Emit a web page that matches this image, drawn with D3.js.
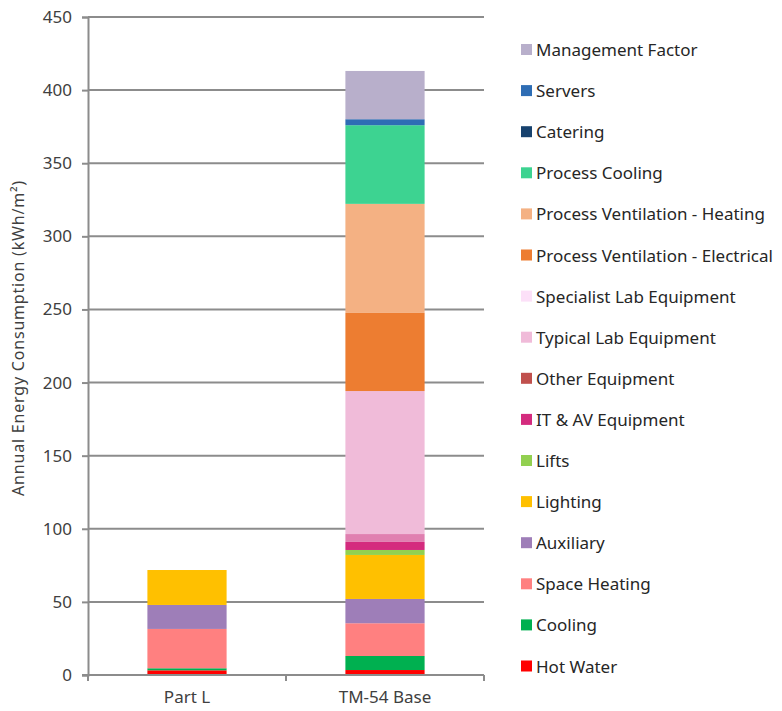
<!DOCTYPE html>
<html>
<head>
<meta charset="utf-8">
<script src="https://cdn.jsdelivr.net/npm/d3@7"></script>
<style>
  body { margin: 0; background: #fff; font-family: "Noto Sans", Lato, sans-serif; }
  .tick text { font-size: 17px; fill: #404040; font-family: "Noto Sans", sans-serif; }
</style>
</head>
<body>
<div id="chart"></div>
<script>
// data, bottom of the stack first
var categories = ["Part L", "TM-54 Base"];
var seriesNames = ["Hot Water", "Cooling", "Space Heating", "Auxiliary", "Lighting", "Lifts",
  "IT & AV Equipment", "Other Equipment", "Typical  Lab Equipment", "Specialist Lab Equipment",
  "Process Ventilation - Electrical", "Process Ventilation - Heating", "Process Cooling",
  "Catering", "Servers", "Management Factor"];
var partL = [3.2, 1.4, 26.9, 16.4, 23.9, 0, 0, 0, 0, 0, 0, 0, 0, 0, 0, 0];
var tm54 = [3.4, 9.6, 22.4, 16.6, 30.1, 3.4, 5.5, 5.4, 97.8, 0, 53.4, 74.6, 53.8, 0, 4.1, 33.0];
var colours = ["#FF0000", "#00B050", "#FF8080", "#9E7EB8", "#FFC000", "#92D050",
  "#D42B7E", "#C0504D", "#F0BBD9", "#FCE0F8",
  "#ED7D31", "#F4B183", "#3DD391", "#17426E", "#2E6DB4", "#B8AFCB"];
var yTicks = [0, 50, 100, 150, 200, 250, 300, 350, 400, 450];
var yTitle = "Annual Energy Consumption (kWh/m²)";

// Other Equipment shows up lighter in the bar than in its legend key
var barColour = { "Other Equipment": "#E07FB0" };

function drawChart() {
  var width = 782, height = 711;
  var plot = { left: 88, right: 484, top: 17, bottom: 675 };

  var svg = d3.select("#chart").append("svg")
      .attr("width", width)
      .attr("height", height);

  var x = d3.scaleBand()
      .domain(categories)
      .range([plot.left, plot.right])
      .paddingInner(0.6)
      .paddingOuter(0.3);

  var y = d3.scaleLinear()
      .domain([0, 450])
      .range([plot.bottom, plot.top]);

  // gridlines
  svg.append("g")
    .selectAll("line")
    .data(yTicks.slice(1))
    .enter()
    .append("line")
      .attr("x1", plot.left)
      .attr("x2", plot.right)
      .attr("y1", function(d) { return y(d); })
      .attr("y2", function(d) { return y(d); })
      .style("stroke", "#8c8c8c")
      .style("stroke-width", 2);

  var rows = categories.map(function(c, i) {
    var row = { cat: c };
    seriesNames.forEach(function(s, j) { row[s] = (i == 0 ? partL : tm54)[j]; });
    return row;
  });

  var stacked = d3.stack().keys(seriesNames)(rows);

  svg.append("g")
    .selectAll("g")
    .data(stacked)
    .enter()
    .append("g")
      .style("fill", function(d, i) { return barColour[d.key] || colours[i]; })
    .selectAll("rect")
    .data(function(d) { return d; })
    .enter()
    .append("rect")
      .attr("x", function(d) { return x(d.data.cat); })
      .attr("width", x.bandwidth())
      .attr("y", function(d) { return y(d[1]); })
      .attr("height", function(d) { return y(d[0]) - y(d[1]); });

  // y axis
  var yAxis = d3.axisLeft(y).tickValues(yTicks).tickSize(6).tickPadding(10);
  var gy = svg.append("g")
      .attr("transform", "translate(" + plot.left + ",0)")
      .call(yAxis);
  gy.select(".domain").style("stroke", "#8c8c8c").style("stroke-width", 2);
  gy.selectAll(".tick line").style("stroke", "#8c8c8c").style("stroke-width", 2);

  // x axis: line and ticks at band edges
  svg.append("line")
      .attr("x1", plot.left - 6)
      .attr("x2", plot.right)
      .attr("y1", plot.bottom)
      .attr("y2", plot.bottom)
      .style("stroke", "#8c8c8c")
      .style("stroke-width", 2);

  var edges = [plot.left, (plot.left + plot.right) / 2, plot.right];
  svg.append("g")
    .selectAll("line")
    .data(edges)
    .enter()
    .append("line")
      .attr("x1", function(d) { return d; })
      .attr("x2", function(d) { return d; })
      .attr("y1", plot.bottom)
      .attr("y2", plot.bottom + 6)
      .style("stroke", "#8c8c8c")
      .style("stroke-width", 2);

  svg.append("g")
    .selectAll("text")
    .data(categories)
    .enter()
    .append("text")
      .attr("x", function(d) { return x(d) + x.bandwidth() / 2; })
      .attr("y", 703)
      .style("text-anchor", "middle")
      .style("font-size", "17px")
      .style("fill", "#404040")
      .text(function(d) { return d; });

  svg.append("text")
    .attr("transform", "rotate(-90)")
    .attr("x", -338)
    .attr("y", 24)
    .style("text-anchor", "middle")
    .style("font-size", "16px")
    .style("letter-spacing", "0.8px")
    .style("fill", "#404040")
    .text(yTitle);

  // legend, top of the stack first
  var legend = svg.append("g")
    .selectAll("g")
    .data(seriesNames.slice().reverse())
    .enter()
    .append("g")
      .attr("transform", function(d, i) { return "translate(521," + (50 + i * 41.1) + ")"; });

  legend.append("rect")
      .attr("x", 0)
      .attr("y", -6)
      .attr("width", 11)
      .attr("height", 11)
      .style("fill", function(d) { return colours[seriesNames.indexOf(d)]; });

  legend.append("text")
      .attr("x", 15)
      .attr("y", 6)
      .style("font-size", "17px")
      .style("fill", "#262626")
      .text(function(d) { return d; });
}

drawChart();
</script>
</body>
</html>
